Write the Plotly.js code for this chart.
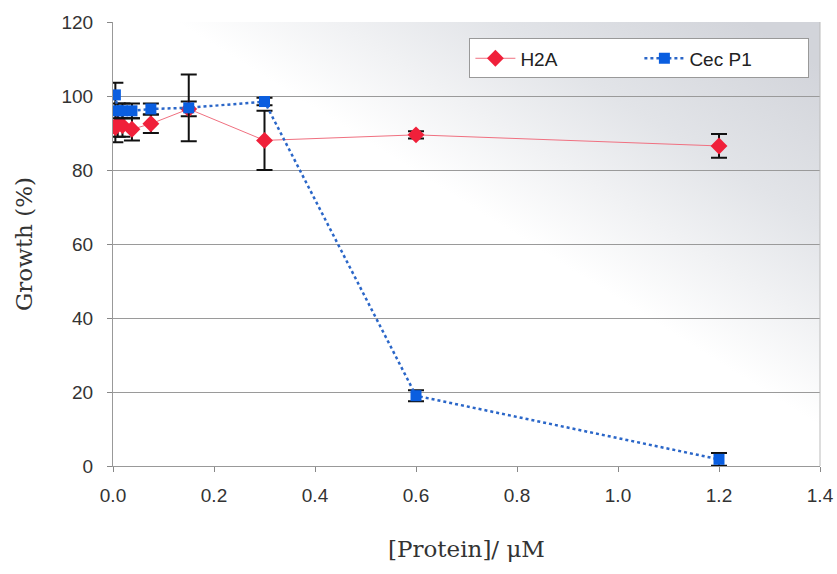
<!DOCTYPE html>
<html><head><meta charset="utf-8">
<script src="https://cdn.plot.ly/plotly-3.0.1.min.js"></script>
<style>body{margin:0;background:#fff}#c{width:837px;height:574px}</style>
</head><body><div id="c"></div>
<script>
const concH2A = [0.0047, 0.009375, 0.01875, 0.0375, 0.075, 0.15, 0.3, 0.6, 1.2];
const growthH2A = [91.5, 92.5, 92, 91, 92.5, 96.5, 88, 89.5, 86.5];
const errH2A = [4, 3.5, 3, 3, 2.5, 2, 8, 1, 3.2];

const concCec = [0.0047, 0.009375, 0.01875, 0.0375, 0.075, 0.15, 0.3, 0.6, 1.2];
const growthCec = [100.3, 96, 96, 96, 96.5, 96.8, 98.5, 19, 1.8];
const errCec = [3.3, 2, 2, 2, 1.5, 9, 1, 1.5, 1.7];

const xTicks = [0, 0.2, 0.4, 0.6, 0.8, 1.0, 1.2, 1.4];
const yTicks = [0, 20, 40, 60, 80, 100, 120];

const bg = 'data:image/svg+xml;utf8,' + encodeURIComponent(
 '<svg xmlns="http://www.w3.org/2000/svg" width="700" height="440" preserveAspectRatio="none">' +
 '<defs><linearGradient id="g" x1="0.1" y1="1" x2="1" y2="0.1">' +
 '<stop offset="0" stop-color="#ffffff"/><stop offset="0.55" stop-color="#ffffff"/>' +
 '<stop offset="0.8" stop-color="#e2e4e8"/><stop offset="1" stop-color="#d2d4da"/></linearGradient></defs>' +
 '<rect width="700" height="440" fill="url(#g)"/></svg>');

const traces = [
 {x: concH2A, y: growthH2A, name: 'H2A', type: 'scatter', mode: 'lines+markers',
  line: {color: '#f07080', width: 1},
  marker: {symbol: 'diamond', size: 13, color: '#f0203a'},
  error_y: {type: 'data', array: errH2A, visible: true, color: '#111', thickness: 2, width: 8}},
 {x: concCec, y: growthCec, name: 'Cec P1', type: 'scatter', mode: 'lines+markers',
  line: {color: '#2a66c8', width: 2.5, dash: 'dot'},
  marker: {symbol: 'square', size: 11, color: '#0a5ee0'},
  error_y: {type: 'data', array: errCec, visible: true, color: '#111', thickness: 2, width: 8}}
];

const layout = {
 width: 837, height: 574,
 margin: {l: 113, r: 17, t: 22, b: 108},
 paper_bgcolor: '#ffffff', plot_bgcolor: 'rgba(0,0,0,0)',
 images: [{source: bg, xref: 'paper', yref: 'paper', x: 0, y: 1, sizex: 1, sizey: 1,
   sizing: 'stretch', layer: 'below'}],
 showlegend: true,
 legend: {orientation: 'h', x: 0.985, xanchor: 'right', y: 0.963, yanchor: 'top',
   entrywidth: 114, itemwidth: 40,
   bgcolor: '#ffffff', bordercolor: '#999', borderwidth: 1,
   font: {family: 'Liberation Sans, Arial', size: 19, color: '#222'}},
 xaxis: {range: [0, 1.4], tickvals: xTicks, tickformat: '.1f', ticks: 'outside', ticklen: 5,
   tickcolor: '#888', showgrid: false, zeroline: false, showline: true, linecolor: '#999',
   ticklabelstandoff: 7,
   tickfont: {family: 'Liberation Sans, Arial', size: 19, color: '#333'},
   title: {text: '[Protein]/ μM', font: {family: 'DejaVu Serif, Liberation Serif', size: 23, color: '#333'}, standoff: 36}},
 yaxis: {range: [0, 120], tickvals: yTicks, ticks: 'outside', ticklen: 5, tickcolor: '#888',
   showgrid: true, gridcolor: '#9a9a9a', gridwidth: 1, zeroline: false, showline: true, linecolor: '#999',
   ticklabelstandoff: 10,
   tickfont: {family: 'Liberation Sans, Arial', size: 19, color: '#333'},
   title: {text: 'Growth (%)', font: {family: 'DejaVu Serif, Liberation Serif', size: 23, color: '#333'}, standoff: 22}},
 shapes: [{type: 'line', xref: 'paper', yref: 'paper', x0: 1, x1: 1, y0: 0, y1: 1, line: {color: '#bbb', width: 1}}]
};
Plotly.newPlot('c', traces, layout, {displayModeBar: false, staticPlot: true});
</script></body></html>
